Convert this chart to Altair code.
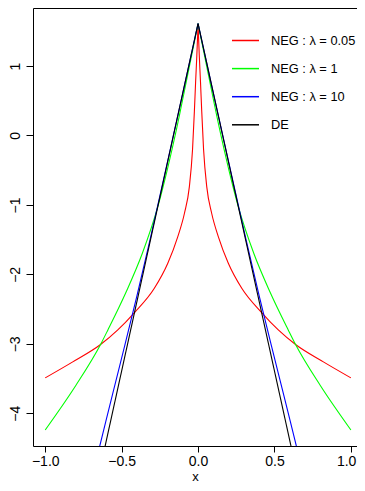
import altair as alt
import pandas as pd

series = ["NEG : λ = 0.05", "NEG : λ = 1", "NEG : λ = 10", "DE"]
colors = ["#FF0000", "#00FF00", "#0000FF", "#000000"]

# values for x >= 0 (curves are symmetric in x)
red_x = [0.0, 0.008, 0.016, 0.024, 0.036, 0.057, 0.089, 0.133, 0.198, 0.286, 0.416, 0.525, 0.638, 0.82, 1.0]
red_y = [1.59, 1.15, 0.77, 0.35, -0.2, -0.74, -1.12, -1.46, -1.84, -2.2, -2.55, -2.8, -3.01, -3.26, -3.49]

green_x = [0.0, 0.07, 0.142, 0.2, 0.26, 0.365, 0.47, 0.59, 0.638, 0.8, 1.0]
green_y = [1.609, 0.85, 0.08, -0.48, -1.0, -1.7, -2.25, -2.8, -3.01, -3.6, -4.24]

blue_x = [0.0, 0.1, 0.2, 0.314, 0.4, 0.479, 0.56, 0.643, 0.75, 1.0]
blue_y = [1.609, 0.61, -0.38, -1.5, -2.31, -3.02, -3.73, -4.47, -5.41, -7.5]

de_x = [0.0, 1.0]
de_y = [1.609, -8.391]

x_ticks = [-1.0, -0.5, 0.0, 0.5, 1.0]
y_ticks = [-4, -3, -2, -1, 0, 1]

rows = []
for name, xs, ys in [(series[0], red_x, red_y), (series[1], green_x, green_y),
                     (series[2], blue_x, blue_y), (series[3], de_x, de_y)]:
    for side, sgn in (("L", -1), ("R", 1)):
        for i, (xv, yv) in enumerate(zip(xs, ys)):
            rows.append({"series": name, "side": side, "x": sgn * xv, "y": yv, "o": i})
df = pd.DataFrame(rows)

FONT = "Liberation Sans"

chart = alt.Chart(df).mark_line(clip=True, strokeWidth=1.1, interpolate="monotone").encode(
    x=alt.X("x:Q", scale=alt.Scale(domain=[-1.08, 1.04], nice=False, zero=False),
            axis=alt.Axis(values=x_ticks, title="x", format=".1f",
                          labelFlush=8, labelFlushOffset=5,
                          labelExpr="replace(datum.label, '-', '−')")),
    y=alt.Y("y:Q", scale=alt.Scale(domain=[-4.471, 1.835], nice=False, zero=False),
            axis=alt.Axis(values=y_ticks, title=None, labelAngle=-90,
                          labelAlign="center", labelBaseline="alphabetic", labelPadding=7,
                          labelExpr="replace(datum.label, '-', '−')")),
    color=alt.Color("series:N", scale=alt.Scale(domain=series, range=colors),
                    legend=alt.Legend(title=None, orient="none", legendX=198, legendY=18,
                                      symbolType="stroke", symbolSize=729,
                                      symbolStrokeWidth=1.5, labelFontSize=12.8,
                                      labelFont=FONT, labelOffset=11, rowPadding=6.1,
                                      labelColor="black")),
    detail="side:N",
    order="o:Q",
).properties(
    width=324, height=438,
    padding={"left": 25, "top": 0, "right": 0, "bottom": 37},
    autosize=alt.AutoSizeParams(type="none"),
).configure_view(
    stroke="black", strokeWidth=1
).configure_axis(
    grid=False, domain=False, tickColor="black", tickSize=7, tickWidth=1,
    labelFont=FONT, labelFontSize=14, labelColor="black",
    titleFont=FONT, titleFontSize=14, titleFontWeight="normal", titleColor="black",
).configure_axisX(
    tickSize=6, labelPadding=2, titlePadding=2, titleFontSize=13
)

chart.save("out.html", embed_options={"renderer": "svg", "actions": False})
